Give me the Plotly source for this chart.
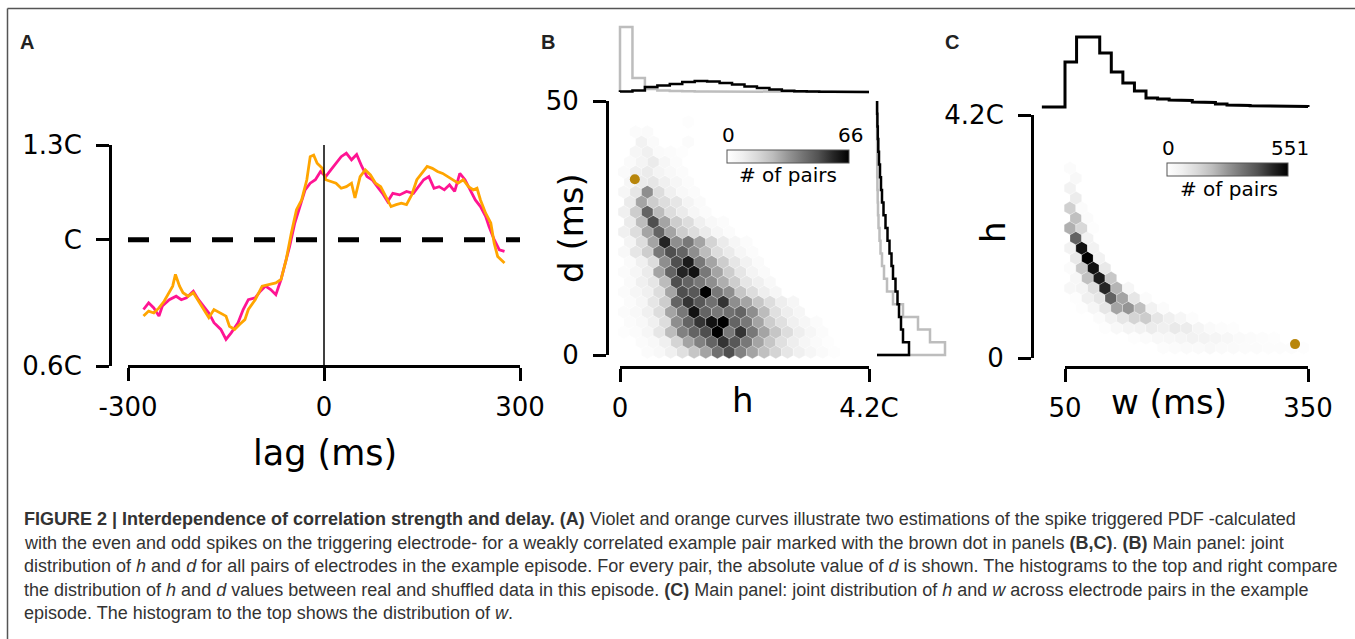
import plotly.graph_objects as go

W, H = 1355, 639
def px(x):
    return x / W
def py(y):
    return 1 - y / H

# ---------------- Panel A data ----------------
lag_pink = [-276.3, -268.4, -260.5, -252.6, -247.4, -236.8, -226.3, -218.4, -210.5, -200.0,
            -192.1, -184.2, -176.3, -168.4, -157.9, -150.0, -142.1, -131.6, -123.7, -115.8,
            -105.3, -97.4, -89.5, -81.6, -73.7, -65.8, -60.5, -52.6, -44.7, -36.8,
            -28.9, -21.1, -13.2, -5.3, 2.6, 10.5, 18.4, 26.3, 34.2, 42.1,
            50.0, 57.9, 65.8, 73.7, 81.6, 89.5, 97.4, 105.3, 115.8, 126.3,
            136.8, 144.7, 152.6, 160.5, 168.4, 176.3, 184.2, 192.1, 200.0, 207.9,
            215.8, 223.7, 231.6, 239.5, 247.4, 252.6, 260.5, 268.4, 276.3]
val_pink = [0.779, 0.800, 0.784, 0.758, 0.790, 0.810, 0.821, 0.810, 0.816, 0.837,
            0.810, 0.790, 0.768, 0.737, 0.716, 0.684, 0.705, 0.737, 0.779, 0.810,
            0.816, 0.837, 0.853, 0.842, 0.826, 0.874, 0.916, 0.979, 1.053, 1.105,
            1.158, 1.179, 1.190, 1.216, 1.200, 1.221, 1.242, 1.263, 1.274, 1.253,
            1.270, 1.232, 1.200, 1.190, 1.168, 1.147, 1.121, 1.147, 1.142, 1.153,
            1.147, 1.168, 1.190, 1.200, 1.163, 1.168, 1.158, 1.174, 1.153, 1.210,
            1.190, 1.158, 1.126, 1.105, 1.074, 1.042, 1.000, 0.968, 0.963]
lag_orange = [-276.3, -268.4, -260.5, -252.6, -244.7, -236.8, -231.6, -227.4, -221.1, -215.8,
              -207.9, -200.0, -192.1, -184.2, -176.3, -168.4, -157.9, -150.0, -144.7, -136.8,
              -128.9, -121.1, -115.8, -105.3, -94.7, -84.2, -73.7, -65.8, -57.9, -50.0,
              -42.1, -34.2, -26.3, -21.1, -15.8, -10.5, -2.6, 2.6, 10.5, 18.4,
              26.3, 34.2, 42.1, 47.4, 55.3, 63.2, 71.1, 78.9, 86.8, 94.7,
              102.6, 110.5, 118.4, 126.3, 134.2, 142.1, 150.0, 157.9, 165.8, 173.7,
              181.6, 189.5, 197.4, 205.3, 213.2, 221.1, 228.9, 234.2, 239.5, 247.4,
              255.3, 260.5, 265.8, 276.3]
val_orange = [0.758, 0.774, 0.768, 0.784, 0.805, 0.832, 0.853, 0.890, 0.853, 0.832,
              0.821, 0.832, 0.805, 0.779, 0.753, 0.779, 0.768, 0.758, 0.726, 0.716,
              0.732, 0.747, 0.779, 0.810, 0.853, 0.858, 0.863, 0.874, 0.937, 1.021,
              1.095, 1.126, 1.190, 1.263, 1.268, 1.242, 1.226, 1.190, 1.184, 1.179,
              1.163, 1.168, 1.179, 1.132, 1.200, 1.221, 1.205, 1.179, 1.168, 1.137,
              1.105, 1.111, 1.116, 1.111, 1.142, 1.190, 1.210, 1.232, 1.226, 1.216,
              1.210, 1.200, 1.190, 1.179, 1.190, 1.168, 1.158, 1.163, 1.126, 1.084,
              1.053, 0.989, 0.947, 0.926]
A_xticks = [-300, 0, 300]
A_xticklabels = ["-300", "0", "300"]
A_yrange = [0.6, 1.3]
A_yticks = [0.6, 1.0, 1.3]
A_yticklabels = ["0.6C", "C", "1.3C"]
A_ref_level = 1.0

# ---------------- Panel B data ----------------
B_xrange = [0, 4.2]
B_xticks = [0, 4.2]
B_xticklabels = ["0", "4.2C"]
B_yrange = [0, 50]
B_yticks = [0, 50]
B_yticklabels = ["0", "50"]
B_cmax = 66
# hexagonal lattice (h origin, h spacing, d origin, d row pitch)
B_hex_h0, B_hex_dh, B_hex_d0, B_hex_dd = 0.067, 0.197, 0.59, 1.969
# counts per lattice row (bottom to top): (first column, counts)
B_hex_rows = [
    (2, [2, 4, 8, 14, 22, 30, 42, 50, 38, 30, 24, 18, 12, 8, 5, 3, 1]),
    (1, [2, 4, 8, 18, 30, 38, 45, 55, 48, 40, 30, 22, 14, 9, 5, 3, 1]),
    (0, [1, 2, 5, 12, 25, 38, 45, 50, 66, 40, 55, 40, 30, 22, 15, 9, 5, 2]),
    (0, [2, 4, 8, 15, 35, 45, 55, 62, 66, 45, 40, 30, 20, 14, 8, 5, 2]),
    (0, [2, 4, 8, 15, 30, 40, 62, 45, 40, 42, 45, 35, 25, 14, 9, 5]),
    (0, [2, 5, 12, 20, 45, 55, 48, 42, 55, 35, 30, 22, 15, 9, 5]),
    (0, [2, 5, 8, 15, 30, 50, 48, 66, 40, 35, 22, 15, 9, 5]),
    (0, [3, 8, 12, 25, 50, 45, 40, 35, 28, 20, 12, 8, 4]),
    (0, [2, 5, 10, 30, 45, 58, 62, 40, 30, 20, 12, 6, 3]),
    (0, [3, 8, 15, 35, 50, 60, 40, 30, 20, 12, 7, 3]),
    (0, [4, 12, 20, 40, 50, 45, 35, 25, 15, 10, 5, 2]),
    (0, [6, 15, 30, 58, 35, 40, 30, 18, 10, 5, 2]),
    (0, [8, 15, 30, 45, 30, 20, 15, 10, 5, 2]),
    (0, [10, 25, 50, 30, 20, 15, 8, 4, 2]),
    (0, [8, 20, 45, 25, 15, 10, 5, 2]),
    (0, [10, 30, 20, 15, 12, 6, 3]),
    (0, [5, 12, 35, 15, 8, 4, 2]),
    (0, [5, 10, 12, 8, 5, 2]),
    (0, [3, 8, 10, 6, 4, 2]),
    (0, [3, 6, 10, 5, 2]),
    (1, [5, 8, 3, 2, 1]),
    (1, [7, 3, 0, 0, 2]),
    (1, [2, 3]),
    (5, [1]),
]
B_example_h, B_example_d = 0.25, 34.6
# histograms (top: h, right: d)
B_h_bin_width = 0.21
B_top_shuffled = [65, 14, 3, 1.5, 1, 0.8, 0.6, 0.5, 0.4, 0.3, 0.2, 0.1, 0.1, 0, 0, 0, 0, 0, 0, 0]
B_top_real = [0.5, 1.5, 5, 6.5, 8, 10, 11, 10.5, 9, 7.5, 5.5, 4, 2.5, 1.3, 0.8, 0.5, 0.3, 0.2, 0.1, 0.1]
B_d_bin_width = 2.5
B_right_shuffled = [68, 53, 41, 26, 16, 10, 7, 5, 3.5, 2.5, 1.5, 1, 0.7, 0.4, 0.2, 0.1, 0, 0, 0, 0]
B_right_real = [32, 26, 24, 22, 20.5, 18.5, 16, 14.5, 12.5, 10.5, 8.5, 6.5, 5, 4, 3, 2, 1.3, 0.8, 0.4, 0.1]

# ---------------- Panel C data ----------------
C_xrange = [50, 350]
C_xticks = [50, 350]
C_xticklabels = ["50", "350"]
C_yrange = [0, 4.2]
C_yticks = [0, 4.2]
C_yticklabels = ["0", "4.2C"]
C_cmax = 551
C_hex_w0, C_hex_dw, C_hex_h0, C_hex_dh = 56.2, 14.4, 0.173, 0.1727
C_hex_rows = [
    (8, [15, 20, 25, 25, 30, 25, 25, 20, 18, 15, 12, 12, 10]),
    (5, [10, 20, 30, 35, 45, 60, 55, 45, 35, 25, 18, 12, 8]),
    (3, [10, 30, 50, 60, 80, 70, 90, 80, 45, 25, 15, 8]),
    (2, [20, 60, 100, 150, 170, 100, 70, 40, 15]),
    (1, [10, 40, 100, 250, 280, 200, 60, 20]),
    (-1, [20, 10, 70, 100, 380, 250, 100, 20]),
    (0, [35, 50, 120, 480, 220, 40]),
    (0, [35, 200, 500, 180]),
    (0, [20, 180, 520, 90]),
    (-1, [10, 90, 551, 60]),
    (0, [60, 520, 60]),
    (-1, [15, 380, 60]),
    (0, [230, 140, 10]),
    (-1, [30, 200, 20]),
    (0, [160, 20]),
    (-1, [15, 80]),
    (0, [60]),
    (-1, [10, 30]),
    (0, [20]),
    (-1, [10]),
]
C_example_w, C_example_h = 334, 0.24
C_w_bin_width = 300 / 21
C_w_first_edge = 50 - 2 * 300 / 21
C_top_counts = [0, 0, 45, 70, 70, 54, 35, 24, 16, 9, 8, 7, 6.5, 5, 4.5, 3, 2, 1.5, 1.2, 1, 0.8, 0.6, 0.5]

caption_lines = [
    "<b>FIGURE 2 | Interdependence of correlation strength and delay. (A)</b> Violet and orange curves illustrate two estimations of the spike triggered PDF -calculated",
    "with the even and odd spikes on the triggering electrode- for a weakly correlated example pair marked with the brown dot in panels <b>(B,C)</b>. <b>(B)</b> Main panel: joint",
    "distribution of <i>h</i> and <i>d</i> for all pairs of electrodes in the example episode. For every pair, the absolute value of <i>d</i> is shown. The histograms to the top and right compare",
    "the distribution of <i>h</i> and <i>d</i> values between real and shuffled data in this episode. <b>(C)</b> Main panel: joint distribution of <i>h</i> and <i>w</i> across electrode pairs in the example",
    "episode. The histogram to the top shows the distribution of <i>w</i>.",
]

# ---------------- helpers ----------------
GREYS = [[0, "#ffffff"], [0.125, "#f0f0f0"], [0.25, "#d9d9d9"], [0.375, "#bdbdbd"],
         [0.5, "#969696"], [0.625, "#737373"], [0.75, "#525252"], [0.875, "#252525"], [1, "#000000"]]
PINK, ORANGE, BROWN = "#ff1493", "#ffa500", "#b8860b"
GRAYH = "#bdbdbd"
TICKFONT = dict(family="DejaVu Sans", size=26, color="black")


def hex_cells(rows, x0, dx, y0, dy):
    xs, ys, cs = [], [], []
    for r, (start, counts) in enumerate(rows):
        off = 0.5 * dx if r % 2 else 0.0
        for k, c in enumerate(counts):
            if c > 0:
                xs.append(x0 + off + (start + k) * dx)
                ys.append(y0 + r * dy)
                cs.append(c)
    return xs, ys, cs


def step_path(first_edge, width, counts):
    edges = [first_edge + i * width for i in range(len(counts) + 1)]
    a = [edges[0]]
    b = [0]
    for i, c in enumerate(counts):
        a += [edges[i], edges[i + 1]]
        b += [c, c]
    a.append(edges[-1])
    b.append(0)
    return a, b


fig = go.Figure()

# ---- Panel A ----
fig.add_trace(go.Scatter(x=[A_xticks[0], A_xticks[-1]], y=[A_ref_level, A_ref_level], mode="lines",
                         line=dict(color="black", width=5, dash="21px,21px"), xaxis="x", yaxis="y"))
fig.add_trace(go.Scatter(x=lag_pink, y=val_pink, mode="lines", line=dict(color=PINK, width=2.8),
                         xaxis="x", yaxis="y"))
fig.add_trace(go.Scatter(x=lag_orange, y=val_orange, mode="lines", line=dict(color=ORANGE, width=2.8),
                         xaxis="x", yaxis="y"))
fig.add_trace(go.Scatter(x=[0, 0], y=A_yrange, mode="lines", line=dict(color="black", width=1.5),
                         xaxis="x", yaxis="y"))

# ---- Panel B ----
bx, by, bc = hex_cells(B_hex_rows, B_hex_h0, B_hex_dh, B_hex_d0, B_hex_dd)
fig.add_trace(go.Scatter(
    x=bx, y=by, mode="markers", xaxis="x2", yaxis="y2", cliponaxis=False,
    marker=dict(symbol="hexagon", size=13.5, color=bc, colorscale=GREYS, cmin=0, cmax=B_cmax,
                line=dict(width=0.5, color="rgba(255,255,255,0.55)"), showscale=True,
                colorbar=dict(orientation="h", x=px(788), xanchor="center", y=py(156.5), yanchor="middle",
                              len=122, lenmode="pixels", thickness=13, thicknessmode="pixels",
                              xpad=0, ypad=0, outlinewidth=1, outlinecolor="#555",
                              showticklabels=False, ticks="", title=dict(text="")))))
fig.add_trace(go.Scatter(x=[B_example_h], y=[B_example_d], mode="markers", xaxis="x2", yaxis="y2",
                         marker=dict(color=BROWN, size=10)))
sx, sy = step_path(0, B_h_bin_width, B_top_shuffled)
fig.add_trace(go.Scatter(x=sx, y=sy, mode="lines", line=dict(color=GRAYH, width=2.5), xaxis="x3", yaxis="y3"))
rx, ry = step_path(0, B_h_bin_width, B_top_real)
fig.add_trace(go.Scatter(x=rx, y=ry, mode="lines", line=dict(color="black", width=2.5), xaxis="x3", yaxis="y3"))
sy2, sx2 = step_path(0, B_d_bin_width, B_right_shuffled)
fig.add_trace(go.Scatter(x=sx2, y=sy2, mode="lines", line=dict(color=GRAYH, width=2.5), xaxis="x4", yaxis="y4"))
ry2, rx2 = step_path(0, B_d_bin_width, B_right_real)
fig.add_trace(go.Scatter(x=rx2, y=ry2, mode="lines", line=dict(color="black", width=2.5), xaxis="x4", yaxis="y4"))

# ---- Panel C ----
cx, cy, cc = hex_cells(C_hex_rows, C_hex_w0, C_hex_dw, C_hex_h0, C_hex_dh)
fig.add_trace(go.Scatter(
    x=cx, y=cy, mode="markers", xaxis="x5", yaxis="y5", cliponaxis=False,
    marker=dict(symbol="hexagon", size=13.5, color=cc, colorscale=GREYS, cmin=0, cmax=C_cmax,
                line=dict(width=0.5, color="rgba(255,255,255,0.55)"), showscale=True,
                colorbar=dict(orientation="h", x=px(1227.5), xanchor="center", y=py(170.5), yanchor="middle",
                              len=121, lenmode="pixels", thickness=13, thicknessmode="pixels",
                              xpad=0, ypad=0, outlinewidth=1, outlinecolor="#555",
                              showticklabels=False, ticks="", title=dict(text="")))))
fig.add_trace(go.Scatter(x=[C_example_w], y=[C_example_h], mode="markers", xaxis="x5", yaxis="y5",
                         marker=dict(color=BROWN, size=10)))
tx, ty = step_path(C_w_first_edge, C_w_bin_width, C_top_counts)
fig.add_trace(go.Scatter(x=tx, y=ty, mode="lines", line=dict(color="black", width=3), xaxis="x6", yaxis="y6"))

# ---------------- axes ----------------
def spine_x(domain, rng, pos, tickvals, ticktext):
    return dict(domain=domain, range=rng, anchor="free", position=pos, tickvals=tickvals, ticktext=ticktext,
                ticks="outside", ticklen=13, tickwidth=3, tickcolor="black", showline=True, linewidth=3,
                linecolor="black", showgrid=False, zeroline=False, tickfont=TICKFONT, automargin=False,
                ticklabelstandoff=4)

def spine_y(domain, rng, pos, tickvals, ticktext):
    return dict(domain=domain, range=rng, anchor="free", position=pos, tickvals=tickvals, ticktext=ticktext,
                ticks="outside", ticklen=13, tickwidth=3, tickcolor="black", showline=True, linewidth=3,
                linecolor="black", showgrid=False, zeroline=False, tickfont=TICKFONT, automargin=False,
                ticklabelstandoff=9)

def hidden(domain, rng):
    return dict(domain=domain, range=rng, visible=False, showgrid=False, zeroline=False, automargin=False)

fig.update_layout(
    width=W, height=H, autosize=False, margin=dict(l=0, r=0, t=0, b=0, pad=0),
    paper_bgcolor="white", plot_bgcolor="rgba(0,0,0,0)", showlegend=False,
    xaxis=spine_x([px(128), px(520)], [-300, 300], py(366), A_xticks, A_xticklabels),
    yaxis=spine_y([py(366), py(145)], A_yrange, px(110), A_yticks, A_yticklabels),
    xaxis2=spine_x([px(620), px(869)], B_xrange, py(367), B_xticks, B_xticklabels),
    yaxis2=spine_y([py(355), py(101)], B_yrange, px(607), B_yticks, B_yticklabels),
    xaxis3=hidden([px(617), px(872)], [-0.0506, 4.2506]),
    yaxis3=hidden([py(95), py(25)], [-3, 67]),
    xaxis4=hidden([px(874), px(952)], [-3, 75]),
    yaxis4=hidden([py(358), py(98)], [-0.59, 50.59]),
    xaxis5=spine_x([px(1065), px(1308)], C_xrange, py(367), C_xticks, C_xticklabels),
    yaxis5=spine_y([py(358), py(115)], C_yrange, px(1032), C_yticks, C_yticklabels),
    xaxis6=hidden([px(1039), px(1311)], [17.9, 353.7]),
    yaxis6=hidden([py(110), py(33)], [-3, 74]),
)

# ---------------- frame ----------------
fig.add_shape(type="line", xref="paper", yref="paper", x0=px(7.5), x1=1, y0=py(8.5), y1=py(8.5),
              line=dict(color="#555", width=1.5))
fig.add_shape(type="line", xref="paper", yref="paper", x0=px(7.5), x1=px(7.5), y0=py(8.5), y1=0,
              line=dict(color="#555", width=1.5))

# ---------------- text ----------------
def note(text, x, y, size, family="DejaVu Sans", angle=0, xanchor="center", color="black"):
    fig.add_annotation(text=text, xref="paper", yref="paper", x=px(x), y=py(y), showarrow=False,
                       xanchor=xanchor, yanchor="middle", textangle=angle,
                       font=dict(family=family, size=size, color=color))

for label, x in (("A", 27), ("B", 548), ("C", 952)):
    note("<b>%s</b>" % label, x, 42, 20, family="Liberation Sans", color="#222")

note("lag (ms)", 325, 453, 35)
note("d (ms)", 571, 228, 34, angle=-90)
note("h", 743, 400, 34)
note("h", 993, 232, 34, angle=-90)
note("w (ms)", 1169, 402, 34)

note("0", 728, 135, 20)
note(str(B_cmax), 850, 135, 20)
note("# of pairs", 788, 175, 20)
note("0", 1168, 148, 20)
note(str(C_cmax), 1290, 148, 20)
note("# of pairs", 1229, 189, 20)

for i, line in enumerate(caption_lines):
    note(line, 22, 519 + 23.5 * i, 18, family="Liberation Sans Narrow, Liberation Sans", xanchor="left",
         color="#333")

fig.write_html("out.html", config={"displayModeBar": False},
               post_script="document.body.style.margin='0';document.body.style.overflow='hidden';")
